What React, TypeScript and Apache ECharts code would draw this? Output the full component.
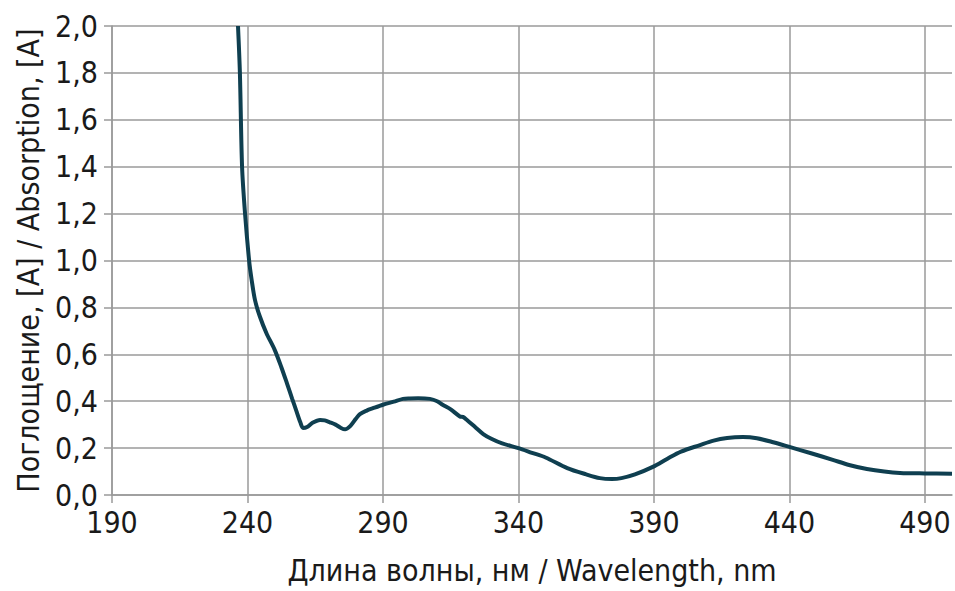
import React, { useEffect, useRef } from "react";
import * as echarts from "echarts";

const wavelength = [
  236.5, 237.2, 238.0, 239.1, 240.6, 241.5, 242.8, 244.6, 247, 250, 252.5, 254.6, 256.5, 258, 259.5,
  260.5, 262, 264, 266.8, 268.5, 270.4, 272.5, 274.5, 276, 278, 280, 281.5, 284, 286.3, 290, 294,
  297.4, 300, 303, 307.3, 310, 312, 315, 318.4, 319.5, 321, 324, 327, 330, 334, 340, 345, 350, 358,
  365, 370, 374.5, 378, 383, 389.6, 395, 400, 407, 412, 417, 422.8, 428, 434, 440, 448, 456, 462,
  468.6, 475, 480.8, 490, 500,
];
const absorption = [
  2.0, 1.8, 1.4, 1.2, 1.0, 0.92, 0.83, 0.76, 0.69, 0.62, 0.545, 0.475, 0.41, 0.36, 0.31,
  0.286, 0.29, 0.308, 0.32, 0.318, 0.31, 0.3, 0.286, 0.28, 0.295, 0.325, 0.345, 0.36, 0.37, 0.385, 0.398,
  0.41, 0.412, 0.413, 0.41, 0.4, 0.385, 0.365, 0.335, 0.333, 0.32, 0.29, 0.26, 0.24, 0.22, 0.2, 0.18, 0.16, 0.115,
  0.088, 0.072, 0.068, 0.072, 0.088, 0.12, 0.155, 0.185, 0.213, 0.232, 0.243, 0.247, 0.242, 0.225, 0.205, 0.178, 0.15, 0.128,
  0.111, 0.1, 0.094, 0.092, 0.091,
];
const xTicks = [190, 240, 290, 340, 390, 440, 490];

const xTitle = "Длина волны, нм / Wavelength, nm";
const yTitle = "Поглощение, [A] / Absorption, [A]";

const FONT = '"Liberation Sans Narrow", "DejaVu Sans Condensed", "Roboto Condensed", sans-serif';
const GRID = "#9a9a9a";

export default function App() {
  const ref = useRef<HTMLDivElement>(null);
  useEffect(() => {
    if (!ref.current) return;
    const chart = echarts.init(ref.current, null, { renderer: "svg" });
    chart.setOption({
      animation: false,
      backgroundColor: "#ffffff",
      grid: { left: 112, right: 3, top: 26, bottom: 96, containLabel: false, outerBoundsMode: "none" },
      xAxis: {
        type: "value",
        min: 190,
        max: 500,
        name: xTitle,
        nameLocation: "middle",
        nameGap: 60,
        nameTextStyle: { fontFamily: FONT, fontSize: 30, color: "#1a1a1a" },
        axisLine: { show: true, lineStyle: { color: GRID, width: 1.5 } },
        axisTick: { show: true, length: 8, customValues: xTicks, lineStyle: { color: GRID, width: 1.5 } },
        axisLabel: {
          customValues: xTicks,
          margin: 12,
          fontFamily: FONT,
          fontSize: 30,
          color: "#1a1a1a",
        },
        splitLine: { show: true, lineStyle: { color: GRID, width: 1.5 } },
      },
      yAxis: {
        type: "value",
        min: 0,
        max: 2,
        interval: 0.2,
        name: yTitle,
        nameLocation: "middle",
        nameGap: 69,
        nameTextStyle: { fontFamily: FONT, fontSize: 30, color: "#1a1a1a" },
        axisLine: { show: true, lineStyle: { color: GRID, width: 1.5 } },
        axisTick: { show: true, length: 8, lineStyle: { color: GRID, width: 1.5 } },
        axisLabel: {
          margin: 14,
          fontFamily: FONT,
          fontSize: 30,
          color: "#1a1a1a",
          formatter: (v: number) => v.toFixed(1).replace(".", ","),
        },
        splitLine: { show: true, lineStyle: { color: GRID, width: 1.5 } },
      },
      series: [
        {
          type: "line",
          data: wavelength.map((w, i) => [w, absorption[i]]),
          showSymbol: false,
          smooth: 0.3,
          lineStyle: { color: "#0f3f50", width: 4 },
        },
      ],
    });
    return () => chart.dispose();
  }, []);
  return (
    <div
      ref={ref}
      style={{ position: "fixed", left: 0, top: 0, width: 955, height: 591 }}
    />
  );
}
